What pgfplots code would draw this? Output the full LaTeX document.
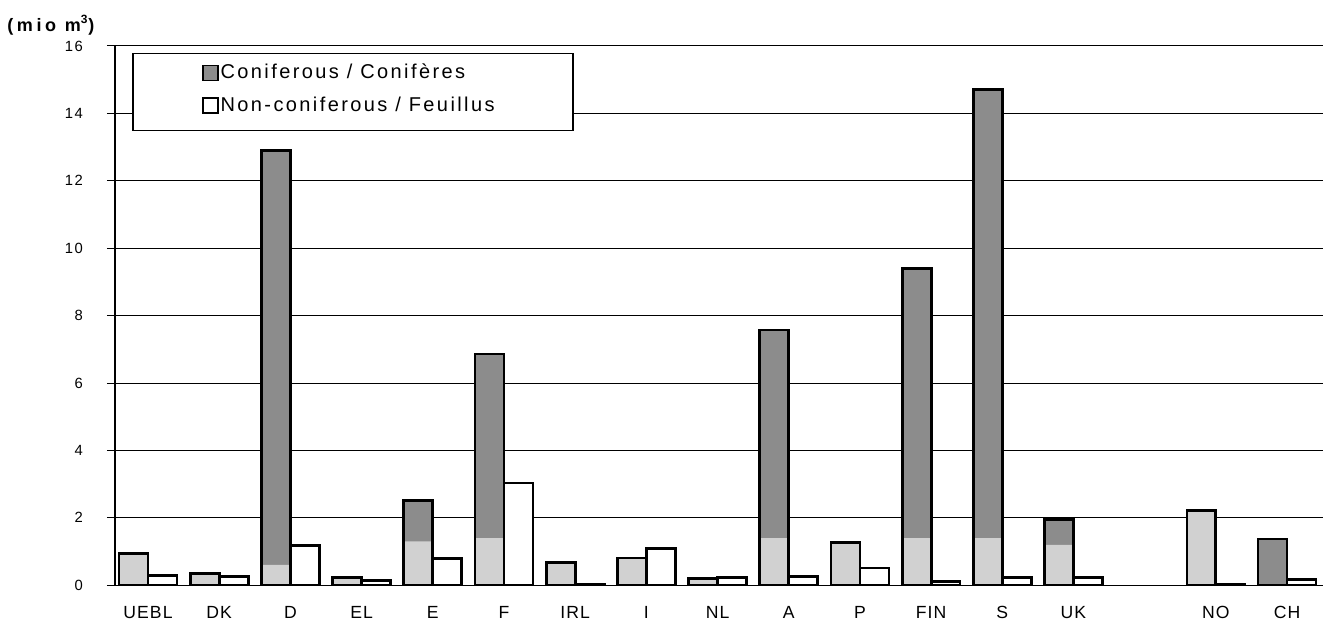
\documentclass[border=0pt]{standalone}
\usepackage{pgfplots}
\pgfplotsset{compat=1.18}
\usepackage{pgfplotstable}
\usepackage{fontspec}
\setmainfont{Liberation Sans}
\newfontfamily\tickfont[LetterSpace=10]{Liberation Sans}
\newfontfamily\xfont[LetterSpace=6]{Liberation Sans}
\newfontfamily\legfont[LetterSpace=12]{Liberation Sans}
\newfontfamily\titfont[LetterSpace=20]{Liberation Sans}
\definecolor{cdark}{gray}{0.55}
\definecolor{clight}{gray}{0.82}

% x  coniferous  lower-part(light)  non-coniferous
\pgfplotstableread{
x  con    low   non
0  0.93   0.93  0.28
1  0.34   0.34  0.26
2  12.89  0.60  1.18
3  0.24   0.24  0.15
4  2.52   1.30  0.79
5  6.86   1.40  3.03
6  0.68   0.68  0.03
7  0.81   0.81  1.08
8  0.19   0.19  0.24
9  7.57   1.40  0.27
10 1.26   1.26  0.51
11 9.40   1.40  0.10
12 14.71  1.40  0.23
13 1.95   1.20  0.23
15 2.22   2.22  0.02
16 1.37   0.00  0.17
}\datatable

\begin{document}
\begin{tikzpicture}
\path[use as bounding box] (-57.5pt,-21pt) rectangle (609pt,292.6pt);
\begin{axis}[
  at={(0,0)}, anchor=south west,
  scale only axis, width=604pt, height=269.6pt,
  xmin=-0.464, xmax=16.505, ymin=0, ymax=16,
  axis x line*=bottom, axis y line*=left,
  axis line style={black, line width=0.6pt, -},
  xtick={0,1,2,3,4,5,6,7,8,9,10,11,12,13,15,16},
  xticklabels={UEBL,DK,D,EL,E,F,IRL,I,NL,A,P,FIN,S,UK,NO,CH},
  xtick style={draw=none},
  ytick={0,2,...,16},
  ytick style={black, line width=0.5pt},
  tick align=outside, major tick length=4pt,
  ymajorgrids, grid style={black, line width=0.5pt},
  /pgf/number format/assume math mode=true,
  yticklabel style={font=\tickfont\fontsize{7.4}{8}\selectfont, xshift=-8.5pt},
  xticklabel style={font=\xfont\fontsize{8.8}{9}\selectfont, yshift=-2.8pt, text height=6.5pt, text depth=0pt},
  legend style={draw=none, fill=none, at={(axis description cs:0.072,0.920)},
    anchor=west, font=\legfont\fontsize{10}{12}\selectfont,
    row sep=5.5pt, inner sep=0pt, nodes={inner sep=1pt}},
  legend cell align=left,
]
\draw[fill=white, line width=0.6pt] (rel axis cs:0.0149,0.8438) rectangle (rel axis cs:0.3791,0.9866);
% coniferous: dark fill, light lower part, outline
\addplot[ybar, bar width=0.407, bar shift=-0.2035, fill=cdark, draw=none, forget plot] table[x=x, y=con] {\datatable};
\addplot[ybar, bar width=0.407, bar shift=-0.2035, fill=clight, draw=none, forget plot] table[x=x, y=low] {\datatable};
\addplot[ybar, bar width=0.407, bar shift=-0.2035, fill=none, draw=black, line width=1.4pt, forget plot] table[x=x, y=con] {\datatable};
% non-coniferous
\addplot[ybar, bar width=0.407, bar shift=0.2035, fill=white, draw=black, line width=1.4pt, forget plot] table[x=x, y=non] {\datatable};
\addlegendimage{legend image code/.code={\draw[fill=cdark, draw=black, line width=0.6pt] (0pt,-3.75pt) rectangle (7.5pt,3.75pt);}}
\addlegendentry{Coniferous / Conifères}
\addlegendimage{legend image code/.code={\draw[fill=white, draw=black, line width=0.6pt] (0pt,-3.75pt) rectangle (7.5pt,3.75pt);}}
\addlegendentry{Non-coniferous / Feuillus}
\end{axis}
\node[anchor=west, inner sep=0pt, font=\titfont\bfseries\fontsize{9}{10}\selectfont] at (-54pt,280pt) {(mio m\textsuperscript{3})};
\end{tikzpicture}
\end{document}
